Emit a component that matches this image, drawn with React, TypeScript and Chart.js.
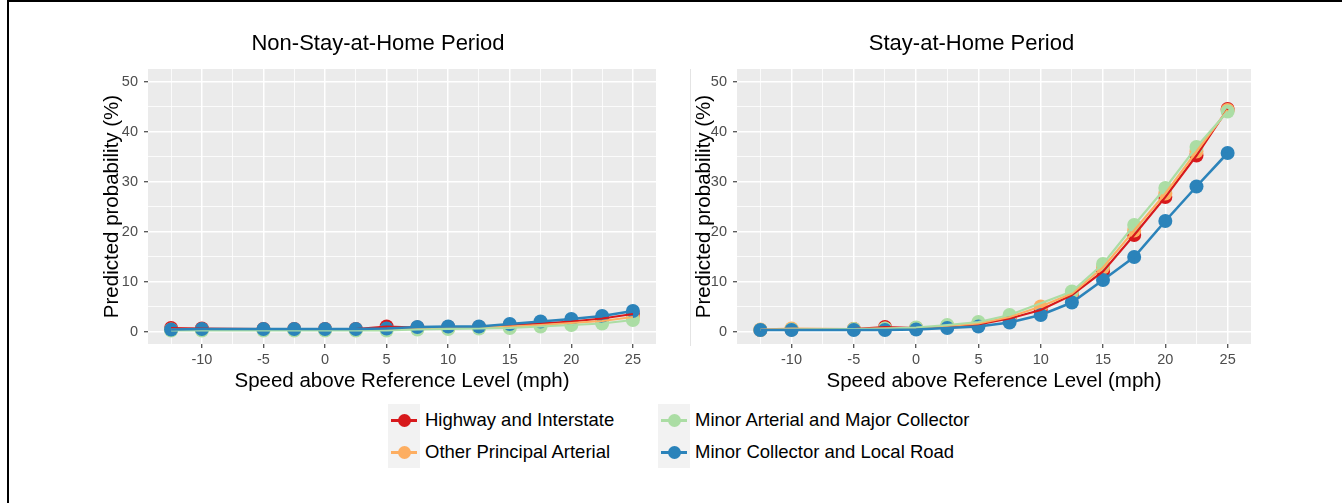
import React, { useEffect, useRef } from "react";
import { Chart, registerables } from "chart.js";

Chart.register(...registerables);

// ---------- data ----------
const X_VALUES = [-12.5, -10, -5, -2.5, 0, 2.5, 5, 7.5, 10, 12.5, 15, 17.5, 20, 22.5, 25];
const X_TICKS = [-12.5, -10, -7.5, -5, -2.5, 0, 2.5, 5, 7.5, 10, 12.5, 15, 17.5, 20, 22.5, 25];
const X_MAJOR = [-10, -5, 0, 5, 10, 15, 20, 25];
const Y_TICKS = [0, 5, 10, 15, 20, 25, 30, 35, 40, 45, 50];
const Y_MAJOR = [0, 10, 20, 30, 40, 50];

const SERIES_NAMES = [
  "Highway and Interstate",
  "Other Principal Arterial",
  "Minor Arterial and Major Collector",
  "Minor Collector and Local Road",
];
const SERIES_COLORS = ["#d7191c", "#fdae61", "#abdda4", "#2b83ba"];

// Non-Stay-at-Home Period
const nonStayHighway = [0.7, 0.6, 0.5, 0.5, 0.5, 0.5, 1.0, 0.8, 0.9, 0.9, 1.3, 1.6, 2.0, 2.6, 3.5];
const nonStayPrincipal = [0.4, 0.4, 0.4, 0.4, 0.4, 0.4, 0.5, 0.6, 0.7, 0.8, 1.0, 1.3, 1.7, 2.1, 2.9];
const nonStayMinorArterial = [0.2, 0.2, 0.2, 0.2, 0.2, 0.2, 0.2, 0.4, 0.5, 0.6, 0.7, 1.0, 1.3, 1.6, 2.3];
const nonStayLocal = [0.4, 0.5, 0.5, 0.5, 0.5, 0.5, 0.6, 0.9, 1.0, 1.0, 1.5, 2.0, 2.5, 3.1, 4.1];

// Stay-at-Home Period
const stayHighway = [0.3, 0.4, 0.5, 0.9, 0.7, 1.0, 1.4, 2.6, 4.3, 7.3, 12.0, 19.3, 26.9, 35.2, 44.5];
const stayPrincipal = [0.4, 0.6, 0.5, 0.6, 0.7, 1.1, 1.6, 2.9, 5.0, 7.6, 12.8, 20.2, 27.6, 36.0, 44.3];
const stayMinorArterial = [0.3, 0.4, 0.5, 0.6, 0.8, 1.3, 1.9, 3.3, null, 8.0, 13.5, 21.3, 28.7, 36.9, 44.0];
const stayLocal = [0.3, 0.3, 0.3, 0.3, 0.4, 0.7, 1.0, 1.8, 3.3, 5.8, 10.3, 14.9, 22.1, 29.0, 35.7];

const FONT = "'Liberation Sans', Arial, Helvetica, sans-serif";

type PanelSpec = {
  title: string;
  series: (number | null)[][];
  padLeft: number;
  padRight: number;
  yWidth: number;
};

const bgPlugin = {
  id: "panelBg",
  beforeDraw(chart: any) {
    const { ctx, chartArea } = chart;
    ctx.save();
    ctx.fillStyle = "#EBEBEB";
    ctx.fillRect(chartArea.left, chartArea.top, chartArea.right - chartArea.left, chartArea.bottom - chartArea.top);
    ctx.restore();
  },
};

function buildDatasets(series: (number | null)[][]) {
  const toPts = (arr: (number | null)[]) =>
    X_VALUES.map((x, i) => ({ x, y: arr[i] })).filter((p) => p.y !== null);
  const lines: any[] = [];
  const points: any[] = [];
  series.forEach((arr, i) => {
    lines.push({
      label: SERIES_NAMES[i] + " line",
      data: toPts(arr),
      borderColor: SERIES_COLORS[i],
      backgroundColor: SERIES_COLORS[i],
      borderWidth: i === 3 ? 2.6 : 2.2,
      pointRadius: 0,
      showLine: true,
      spanGaps: true,
      tension: 0,
    });
    points.push({
      label: SERIES_NAMES[i],
      data: toPts(arr),
      borderColor: SERIES_COLORS[i],
      backgroundColor: SERIES_COLORS[i],
      pointBackgroundColor: SERIES_COLORS[i],
      pointBorderWidth: 0,
      pointRadius: 7,
      showLine: false,
    });
  });
  // first dataset is drawn on top: lines above points, blue above red
  return [...lines.reverse(), ...points.reverse()];
}

function Panel({ spec, left, width }: { spec: PanelSpec; left: number; width: number }) {
  const ref = useRef<HTMLCanvasElement | null>(null);
  useEffect(() => {
    if (!ref.current) return;
    const isMajorX = (v: number) => X_MAJOR.includes(v);
    const isMajorY = (v: number) => Y_MAJOR.includes(v);
    const chart = new Chart(ref.current, {
      type: "line",
      data: { datasets: buildDatasets(spec.series) },
      plugins: [bgPlugin],
      options: {
        animation: false,
        responsive: false,
        maintainAspectRatio: false,
        devicePixelRatio: 1,
        events: [],
        layout: { padding: { left: spec.padLeft, right: spec.padRight, top: 0, bottom: 0 } },
        plugins: {
          legend: { display: false },
          tooltip: { enabled: false },
          title: {
            display: true,
            text: spec.title,
            color: "#000000",
            font: { family: FONT, size: 22, weight: "normal", lineHeight: 1.2 },
            padding: { top: 31, bottom: 11.6 },
          },
        },
        scales: {
          x: {
            type: "linear",
            min: -14.375,
            max: 26.875,
            afterBuildTicks: (axis: any) => {
              axis.ticks = X_TICKS.map((v) => ({ value: v }));
            },
            afterFit: (axis: any) => {
              axis.height = 56;
            },
            border: { display: false },
            grid: {
              color: "#FFFFFF",
              lineWidth: (c: any) => (c.tick && isMajorX(c.tick.value) ? 1.5 : 0.8),
              tickColor: (c: any) => (c.tick && isMajorX(c.tick.value) ? "#333333" : "rgba(0,0,0,0)"),
              tickWidth: 1.1,
              tickLength: 4,
              drawTicks: true,
            },
            ticks: {
              autoSkip: false,
              maxRotation: 0,
              padding: 3,
              color: "#4D4D4D",
              font: { family: FONT, size: 14.5 },
              callback: (v: any) => (isMajorX(Number(v)) ? String(v) : ""),
            },
            title: {
              display: true,
              text: "Speed above Reference Level (mph)",
              color: "#000000",
              font: { family: FONT, size: 20.5, lineHeight: 1.2 },
              padding: { top: 0, bottom: 6.2 },
            },
          },
          y: {
            type: "linear",
            min: -2.5,
            max: 52.5,
            afterBuildTicks: (axis: any) => {
              axis.ticks = Y_TICKS.map((v) => ({ value: v }));
            },
            afterFit: (axis: any) => {
              axis.width = spec.yWidth;
            },
            border: { display: false },
            grid: {
              color: "#FFFFFF",
              lineWidth: (c: any) => (c.tick && isMajorY(c.tick.value) ? 1.5 : 0.8),
              tickColor: (c: any) => (c.tick && isMajorY(c.tick.value) ? "#333333" : "rgba(0,0,0,0)"),
              tickWidth: 1.1,
              tickLength: 4,
              drawTicks: true,
            },
            ticks: {
              autoSkip: false,
              padding: 6,
              color: "#4D4D4D",
              font: { family: FONT, size: 14.5 },
              callback: (v: any) => (isMajorY(Number(v)) ? String(v) : ""),
            },
            title: {
              display: true,
              text: "Predicted probability (%)",
              color: "#000000",
              font: { family: FONT, size: 20.5, lineHeight: 1.2 },
              padding: { top: 0, bottom: 0 },
            },
          },
        },
      } as any,
    });
    return () => chart.destroy();
  }, [spec]);
  return (
    <canvas
      ref={ref}
      width={width}
      height={400}
      style={{ position: "absolute", left, top: 0, width, height: 400 }}
    />
  );
}

const LEFT_SPEC: PanelSpec = {
  title: "Non-Stay-at-Home Period",
  series: [nonStayHighway, nonStayPrincipal, nonStayMinorArterial, nonStayLocal],
  padLeft: 10,
  padRight: 14,
  yWidth: 48,
};
const RIGHT_SPEC: PanelSpec = {
  title: "Stay-at-Home Period",
  series: [stayHighway, stayPrincipal, stayMinorArterial, stayLocal],
  padLeft: 12,
  padRight: 13,
  yWidth: 45,
};

function LegendKey({ color }: { color: string }) {
  return (
    <div style={{ position: "relative", width: 32, height: 32, background: "#F2F2F2" }}>
      <div
        style={{
          position: "absolute",
          left: 3,
          right: 3,
          top: 14.5,
          height: 3,
          background: color,
        }}
      />
      <div
        style={{
          position: "absolute",
          left: 9.5,
          top: 9.5,
          width: 13,
          height: 13,
          borderRadius: "50%",
          background: color,
        }}
      />
    </div>
  );
}

function LegendItem({ idx, left, top }: { idx: number; left: number; top: number }) {
  return (
    <div style={{ position: "absolute", left, top, height: 32, display: "flex", alignItems: "center" }}>
      <LegendKey color={SERIES_COLORS[idx]} />
      <span
        style={{
          marginLeft: 5,
          fontFamily: FONT,
          fontSize: 18.5,
          color: "#000000",
          whiteSpace: "nowrap",
          lineHeight: "32px",
        }}
      >
        {SERIES_NAMES[idx]}
      </span>
    </div>
  );
}

export default function App() {
  return (
    <div
      style={{
        position: "absolute",
        left: 0,
        top: 0,
        width: 1342,
        height: 503,
        background: "#FFFFFF",
        overflow: "hidden",
      }}
    >
      {/* figure frame */}
      <div
        style={{
          position: "absolute",
          left: 7,
          top: 0,
          width: 1400,
          height: 600,
          borderTop: "2px solid #000",
          borderLeft: "2px solid #000",
        }}
      />
      <Panel spec={LEFT_SPEC} left={90} width={580} />
      <Panel spec={RIGHT_SPEC} left={680} width={584} />
      {/* faint panel separator */}
      <div style={{ position: "absolute", left: 690, top: 69, width: 1, height: 277, background: "#E4E4E4" }} />
      <LegendItem idx={0} left={388} top={404} />
      <LegendItem idx={1} left={388} top={436} />
      <LegendItem idx={2} left={658} top={404} />
      <LegendItem idx={3} left={658} top={436} />
    </div>
  );
}
